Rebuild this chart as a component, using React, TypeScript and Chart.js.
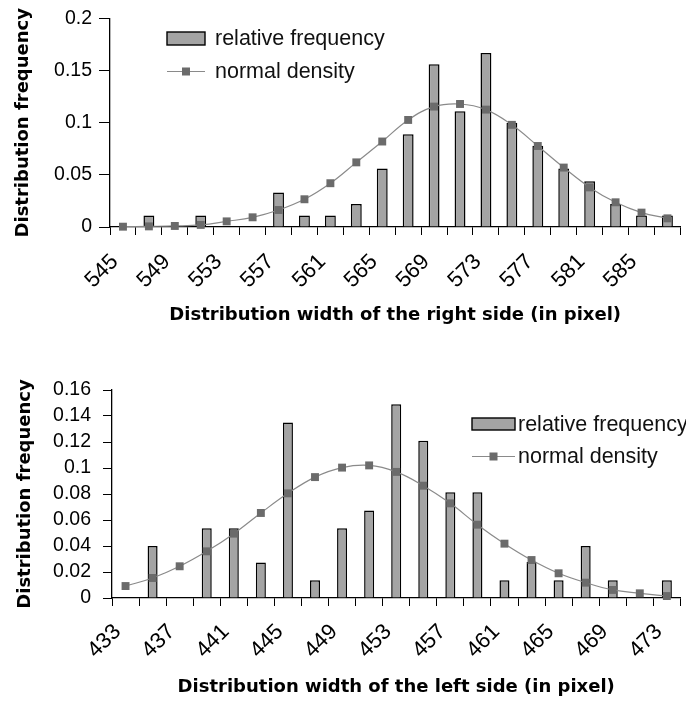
import { useEffect, useRef } from "react";
import { Chart, registerables } from "chart.js";

Chart.register(...registerables);

// ---------- data ----------
const rightCategories = [
  "545", "547", "549", "551", "553", "555", "557", "559", "561", "563", "565",
  "567", "569", "571", "573", "575", "577", "579", "581", "583", "585", "587",
];
const rightFrequency = [
  null, 0.011, null, 0.011, null, null, 0.033, 0.011, 0.011, 0.022, 0.056,
  0.089, 0.156, 0.111, 0.167, 0.1, 0.078, 0.056, 0.044, 0.022, 0.011, 0.011,
];
const rightDensity = [
  0.0003, 0.0006, 0.001, 0.002, 0.0054, 0.0093, 0.0163, 0.0266, 0.042, 0.062, 0.082,
  0.1027, 0.1155, 0.118, 0.1126, 0.098, 0.0777, 0.057, 0.038, 0.0237, 0.0138, 0.0083,
];

const leftCategories = [
  "433", "435", "437", "439", "441", "443", "445", "447", "449", "451", "453",
  "455", "457", "459", "461", "463", "465", "467", "469", "471", "473",
];
const leftFrequency = [
  null, 0.04, null, 0.0536, 0.0536, 0.0274, 0.135, 0.0136, 0.0536, 0.0674, 0.149,
  0.121, 0.0813, 0.0813, 0.0136, 0.0277, 0.0136, 0.04, 0.0136, null, 0.0136,
];
const leftDensity = [
  0.0092, 0.0154, 0.0244, 0.0359, 0.0495, 0.0654, 0.0805, 0.093, 0.1003, 0.102, 0.097,
  0.0864, 0.0728, 0.0564, 0.0418, 0.0292, 0.019, 0.0118, 0.0062, 0.0036, 0.0015,
];

const rightYTicks = { max: 0.2, step: 0.05 };
const leftYTicks = { max: 0.16, step: 0.02 };

const seriesNames = ["relative frequency", "normal density"];
const yTitle = "Distribution frequency";
const rightXTitle = "Distribution width of the right side (in pixel)";
const leftXTitle = "Distribution width of the left side (in pixel)";

// ---------- styles ----------
const BAR_FILL = "#a4a4a4";
const LINE_COLOR = "#8a8a8a";
const POINT_COLOR = "#6b6b6b";
const TICK_FONT = { family: "Liberation Sans", size: 19.5, lineHeight: 1 };
const XTICK_FONT = { family: "Liberation Sans", size: 22 };
const TITLE_FONT = { family: "DejaVu Sans", size: 18, weight: "bold" as const };
const LEGEND_FONT = "21.5px 'Liberation Sans'";

const legendPlugin = {
  id: "customLegend",
  afterDraw(chart: any, _args: any, opts: any) {
    const ctx = chart.ctx as CanvasRenderingContext2D;
    const ds = chart.data.datasets;
    const { x, y, boxW, boxH, rowGap, textX } = opts;
    ctx.save();
    // row 1: bar
    ctx.fillStyle = ds[0].backgroundColor;
    ctx.fillRect(x, y - boxH / 2, boxW, boxH);
    ctx.strokeStyle = "#000";
    ctx.lineWidth = 1.4;
    ctx.strokeRect(x, y - boxH / 2, boxW, boxH);
    ctx.font = LEGEND_FONT;
    ctx.fillStyle = "#111";
    ctx.textBaseline = "middle";
    ctx.textAlign = "left";
    ctx.fillText(ds[0].label, textX, y + 1);
    // row 2: line
    const y2 = y + rowGap;
    ctx.strokeStyle = ds[1].borderColor;
    ctx.lineWidth = 1;
    ctx.beginPath();
    ctx.moveTo(x, y2);
    ctx.lineTo(x + boxW, y2);
    ctx.stroke();
    ctx.fillStyle = ds[1].pointBackgroundColor;
    ctx.fillRect(x + boxW / 2 - 4, y2 - 4, 8, 8);
    ctx.fillStyle = "#111";
    ctx.fillText(ds[1].label, textX, y2 + 1);
    ctx.restore();
  },
};

type Cfg = {
  categories: string[];
  frequency: (number | null)[];
  density: number[];
  yTicks: { max: number; step: number };
  xTitle: string;
  height: number;
  plotTop: number;
  plotBottom: number;
  plotLeft: number;
  yTickLen: number;
  yTickPad: number;
  yTitlePad: number;
  xTitlePad: number;
  xTickPad: number;
  barPct: number;
  legend: any;
};

function buildChart(canvas: HTMLCanvasElement, c: Cfg) {
  return new Chart(canvas, {
    type: "bar",
    data: {
      labels: c.categories,
      datasets: [
        {
          type: "bar",
          label: seriesNames[0],
          data: c.frequency as any,
          backgroundColor: BAR_FILL,
          borderColor: "#000",
          borderWidth: 1.5,
          borderSkipped: "bottom",
          categoryPercentage: 1,
          barPercentage: c.barPct,
          order: 2,
        },
        {
          type: "line",
          label: seriesNames[1],
          data: c.density,
          borderColor: LINE_COLOR,
          borderWidth: 1.2,
          tension: 0.4,
          pointStyle: "rect",
          pointRadius: 5.6,
          pointBackgroundColor: POINT_COLOR,
          pointBorderColor: POINT_COLOR,
          pointBorderWidth: 0,
          clip: false,
          order: 1,
        } as any,
      ],
    },
    options: {
      responsive: false,
      animation: false,
      devicePixelRatio: 1,
      layout: { padding: { top: c.plotTop, left: 0, right: 0, bottom: 0 } },
      plugins: {
        legend: { display: false },
        tooltip: { enabled: false },
        customLegend: c.legend,
      } as any,
      scales: {
        x: {
          type: "category",
          offset: true,
          grid: {
            offset: true,
            drawOnChartArea: false,
            drawTicks: true,
            tickLength: 8,
            color: "#000",
            tickColor: "#000",
          },
          border: { color: "#000", width: 1.3 },
          ticks: {
            autoSkip: false,
            minRotation: 45,
            maxRotation: 45,
            padding: c.xTickPad,
            labelOffset: -8,
            color: "#000",
            font: XTICK_FONT,
            callback: (_v: any, i: number) => (i % 2 === 0 ? c.categories[i] : ""),
          },
          title: {
            display: true,
            text: c.xTitle,
            color: "#000",
            font: TITLE_FONT,
            padding: { top: 0, bottom: c.xTitlePad },
          },
          afterFit: (s: any) => {
            s.height = c.height - c.plotBottom;
            s.paddingLeft = 0;
            s.paddingRight = 0;
          },
        },
        y: {
          type: "linear",
          min: 0,
          max: c.yTicks.max,
          grid: {
            drawOnChartArea: false,
            drawTicks: true,
            tickLength: c.yTickLen,
            color: "#000",
            tickColor: "#000",
          },
          border: { color: "#000", width: 1.3 },
          ticks: {
            stepSize: c.yTicks.step,
            autoSkip: false,
            padding: c.yTickPad,
            color: "#000",
            font: TICK_FONT,
            callback: (v: any) => String(+Number(v).toFixed(3)),
          },
          title: {
            display: true,
            text: yTitle,
            color: "#000",
            font: TITLE_FONT,
            padding: { top: c.yTitlePad, bottom: 0 },
          },
          afterFit: (s: any) => {
            s.width = c.plotLeft;
            s.paddingTop = 0;
            s.paddingBottom = 0;
          },
        },
      },
    },
    plugins: [legendPlugin],
  } as any);
}

const TOP_H = 345;
const BOTTOM_H = 359;
const WIDTH = 686;

export default function App() {
  const topRef = useRef<HTMLCanvasElement>(null);
  const botRef = useRef<HTMLCanvasElement>(null);

  useEffect(() => {
    const top = buildChart(topRef.current!, {
      categories: rightCategories,
      frequency: rightFrequency,
      density: rightDensity,
      yTicks: rightYTicks,
      xTitle: rightXTitle,
      height: TOP_H,
      plotTop: 18.5,
      plotBottom: 227,
      plotLeft: 110,
      yTickLen: 11,
      yTickPad: 7,
      yTitlePad: 13,
      xTitlePad: 19,
      xTickPad: 14,
      barPct: 0.42,
      legend: { x: 167, y: 38.5, boxW: 38, boxH: 13, rowGap: 33, textX: 215 },
    });
    const bottom = buildChart(botRef.current!, {
      categories: leftCategories,
      frequency: leftFrequency,
      density: leftDensity,
      yTicks: leftYTicks,
      xTitle: leftXTitle,
      height: BOTTOM_H,
      plotTop: 45,
      plotBottom: 253,
      plotLeft: 112,
      yTickLen: 9,
      yTickPad: 12,
      yTitlePad: 14.5,
      xTitlePad: 6,
      xTickPad: 13,
      barPct: 0.37,
      legend: { x: 472, y: 79, boxW: 43, boxH: 12, rowGap: 32.5, textX: 518 },
    });
    return () => {
      top.destroy();
      bottom.destroy();
    };
  }, []);

  return (
    <div
      style={{
        position: "absolute",
        left: 0,
        top: 0,
        width: WIDTH,
        height: TOP_H + BOTTOM_H,
        background: "#fff",
      }}
    >
      <canvas
        ref={topRef}
        width={WIDTH}
        height={TOP_H}
        style={{ display: "block", width: WIDTH + "px", height: TOP_H + "px" }}
      />
      <canvas
        ref={botRef}
        width={WIDTH}
        height={BOTTOM_H}
        style={{ display: "block", width: WIDTH + "px", height: BOTTOM_H + "px" }}
      />
    </div>
  );
}
